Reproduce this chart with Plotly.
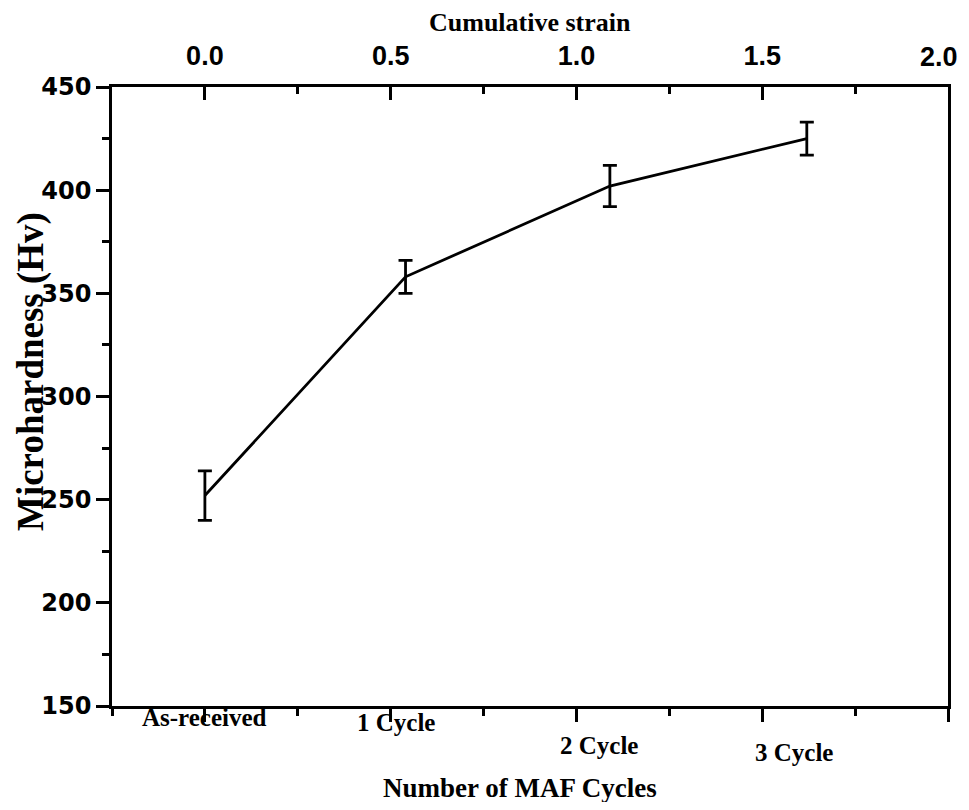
import plotly.graph_objects as go

# ---- data ----
categories = ["As-received", "1 Cycle", "2 Cycle", "3 Cycle"]
strain = [0.0, 0.54, 1.09, 1.62]
hardness = [252, 358, 402, 425]
hardness_err = [12, 8, 10, 8]
strain_ticks = [0.0, 0.5, 1.0, 1.5, 2.0]
strain_ticklabels = ["0.0", "0.5", "1.0", "1.5", "2.0"]

# ---- layout (page pixels; page has an 8px body margin) ----
OFF = 8
W, H = 969 - 2 * OFF, 810 - 2 * OFF
L, R, T, B = 112 - OFF, 948 - OFF, 87 - OFF, 706 - OFF
pw, ph = R - L, B - T

def py_paper(page_y):
    return (B - (page_y - OFF)) / ph

def px_paper(page_x):
    return ((page_x - OFF) - L) / pw

label_x = [0.0, 0.515, 1.06, 1.585]
label_y_px = [717, 722, 745, 752]

sans_b = "Liberation Sans, Arial"
wide_b = "DejaVu Sans, Verdana, Arial"
serif = "Liberation Serif, Times New Roman, serif"

fig = go.Figure()
fig.add_trace(go.Scatter(
    x=strain, y=hardness, mode="lines",
    line=dict(color="black", width=2.8),
    error_y=dict(type="data", array=hardness_err, visible=True,
                 color="black", thickness=2.8, width=7),
    showlegend=False, xaxis="x", yaxis="y",
))
fig.add_trace(go.Scatter(x=strain, y=hardness, mode="markers",
                         marker=dict(opacity=0), showlegend=False,
                         hoverinfo="skip", xaxis="x2", yaxis="y"))

# last top label (at the right edge) is drawn as a right-anchored annotation
top_labels = strain_ticklabels[:-1] + [""]

fig.update_layout(
    width=W, height=H,
    margin=dict(l=L, r=W - R, t=T, b=H - B, autoexpand=False),
    plot_bgcolor="white", paper_bgcolor="white",
    xaxis=dict(range=[-0.25, 2.0], showline=True, linecolor="black", linewidth=2.5,
               mirror=True, tickvals=strain_ticks, showticklabels=False,
               ticks="outside", ticklen=13, tickwidth=2.5, tickcolor="black",
               minor=dict(tickvals=[-0.25, 0.25, 0.75, 1.25, 1.75], ticks="outside",
                          ticklen=7, tickwidth=2.5, tickcolor="black"),
               showgrid=False, zeroline=False),
    xaxis2=dict(range=[-0.25, 2.0], overlaying="x", side="top", anchor="y",
                showline=False, tickvals=strain_ticks, ticktext=top_labels,
                ticks="inside", ticklen=13, tickwidth=2.5, tickcolor="black",
                minor=dict(tickvals=[0.25, 0.75, 1.25, 1.75], ticks="inside",
                           ticklen=7, tickwidth=2.5, tickcolor="black"),
                tickfont=dict(family=sans_b, size=27, color="black", weight="bold"),
                ticklabelstandoff=16,
                showgrid=False, zeroline=False),
    yaxis=dict(range=[150, 450], showline=True, linecolor="black", linewidth=2.5,
               mirror=True, dtick=50, tick0=150,
               ticks="outside", ticklen=13, tickwidth=2.5, tickcolor="black",
               minor=dict(dtick=25, ticks="outside", ticklen=7, tickwidth=2.5,
                          tickcolor="black"),
               tickfont=dict(family=wide_b, size=24, color="black", weight="bold"),
               showgrid=False, zeroline=False),
)

ann = []
for cat, sx, py in zip(categories, label_x, label_y_px):
    ann.append(dict(x=sx, y=py_paper(py), xref="x", yref="paper",
                    text=cat, showarrow=False, xanchor="center", yanchor="middle",
                    font=dict(family=serif, size=25, color="black", weight="bold")))
ann.append(dict(x=1.0, y=py_paper(57), xref="paper", yref="paper", xshift=12,
                text=strain_ticklabels[-1], showarrow=False, xanchor="right",
                yanchor="middle",
                font=dict(family=sans_b, size=27, color="black", weight="bold")))
ann.append(dict(x=px_paper(530), y=py_paper(22), xref="paper", yref="paper",
                text="Cumulative strain", showarrow=False, xanchor="center", yanchor="middle",
                font=dict(family=serif, size=26, color="black", weight="bold")))
ann.append(dict(x=px_paper(520), y=py_paper(788), xref="paper", yref="paper",
                text="Number of MAF Cycles", showarrow=False, xanchor="center", yanchor="middle",
                font=dict(family=serif, size=27, color="black", weight="bold")))
ann.append(dict(x=px_paper(31), y=py_paper(372), xref="paper", yref="paper",
                text="Microhardness (Hv)", showarrow=False, xanchor="center", yanchor="middle",
                textangle=-90,
                font=dict(family=serif, size=37, color="black", weight="bold")))
fig.update_layout(annotations=ann)

fig.write_html("out.html")
